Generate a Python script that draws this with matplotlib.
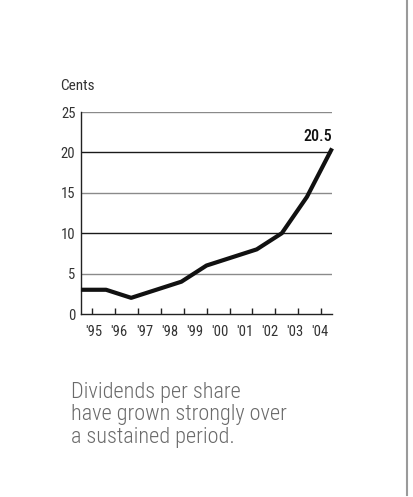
import matplotlib
matplotlib.use("Agg")
import matplotlib.pyplot as plt
from matplotlib.lines import Line2D
import numpy as np

# dividends per share, in cents
periods = list(range(11))
dividends = [3, 3, 2, 3, 4, 6, 7, 8, 10, 14.5, 20.5]
year_labels = ["'95", "'96", "'97", "'98", "'99", "'00", "'01", "'02", "'03", "'04"]
y_ticks = [0, 5, 10, 15, 20, 25]
caption = "Dividends per share\nhave grown strongly over\na sustained period."

plt.rcParams['font.family'] = ['Roboto Condensed', 'DejaVu Sans']

fig = plt.figure(figsize=(4.13, 4.97), dpi=100)
ax = fig.add_axes([0.196, 0.3682, 0.608, 0.4064])

# horizontal rules, darker on 10 and 20
for v in y_ticks[1:]:
    col = '#1a1a1a' if v in (10, 20) else '#8a8a8a'
    ax.axhline(v, color=col, linewidth=1.0, zorder=1)

ax.plot(periods, dividends, color='#111111', linewidth=3.0,
        solid_capstyle='butt', solid_joinstyle='round', zorder=3, clip_on=False)

ax.set_xlim(0, 10)
ax.set_ylim(0, 25)

for side in ['top', 'right']:
    ax.spines[side].set_visible(False)
ax.spines['left'].set_color('#222222')
ax.spines['bottom'].set_color('#222222')
ax.spines['left'].set_linewidth(1.0)
ax.spines['bottom'].set_linewidth(1.0)

# small upward ticks on the baseline, year labels sit between data points
ax.set_xticks(np.linspace(0.44, 9.57, 11))
ax.set_xticklabels([])
ax.tick_params(axis='x', which='major', direction='in', length=4, width=1, color='#222222')
ax.set_xticks([i + 0.53 for i in range(len(year_labels))], minor=True)
ax.set_xticklabels(year_labels, minor=True)
ax.tick_params(axis='x', which='minor', length=0, pad=8, labelsize=10.5, labelcolor='#333333')

ax.set_yticks(y_ticks)
ax.set_yticklabels([str(v) for v in y_ticks])
ax.tick_params(axis='y', length=0, pad=4, labelsize=10.5, labelcolor='#333333')

ax.text(10, dividends[-1] + 0.6, f"{dividends[-1]:g}", ha='right', va='bottom',
        fontsize=11.5, color='#111111', fontweight='medium')

fig.text(0.145, 0.812, "Cents", fontsize=11, color='#333333', va='bottom')

fig.text(0.172, 0.099, caption, fontsize=16, color='#6a6a6a', fontweight='light',
         va='bottom', ha='left', linespacing=1.1)

# thin grey rule down the right edge
fig.add_artist(Line2D([0.9855, 0.9855], [0.004, 1.0], transform=fig.transFigure,
                      color='#9a9a9a', linewidth=1.5))

fig.savefig("out.png", dpi=100, facecolor='white')
